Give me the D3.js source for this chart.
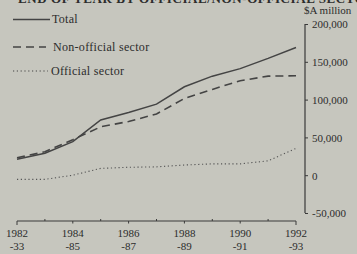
<!DOCTYPE html>
<html><head><meta charset="utf-8">
<script src="https://cdn.jsdelivr.net/npm/d3@7"></script>
<style>
html,body{margin:0;padding:0;background:#c6c6be;}
svg{display:block;}
text{font-family:"Liberation Serif",serif;fill:#2c2c2c;}
</style></head><body>
<svg id="c" width="357" height="254"></svg>
<script>
const years = [1982,1983,1984,1985,1986,1987,1988,1989,1990,1991,1992];
const yearLabels = [["1982","-33"],["1984","-85"],["1986","-87"],["1988","-89"],["1990","-91"],["1992","-93"]];
const total       = [21000,29000,44300,73000,83000,94000,117000,131000,141000,154500,169000];
const nonOfficial = [23000,31000,47000,64000,71000,81000,101500,113500,125000,131000,131500];
const official    = [-5500,-5500,0,9000,10500,11000,13500,15000,15000,19000,35500];
const yTicks = [200000,150000,100000,50000,0,-50000];
const seriesNames = ["Total","Non-official sector","Official sector"];
const titleText = "END OF YEAR BY OFFICIAL/NON-OFFICIAL SECTOR";

const svg = d3.select("#c");
const x = d3.scaleLinear().domain([1982,1992]).range([17,296]);
const y = d3.scaleLinear().domain([-50000,200000]).range([213,24]);
const ink = "#3a3a3a";

// title, mostly cut off at the top edge as in the reference
svg.append("text").attr("x",18).attr("y",2.5).attr("font-size",13).attr("font-weight","bold")
  .attr("letter-spacing",0.6).text(titleText);

// right axis
const yAxis = d3.axisRight(y).tickValues(yTicks).tickSize(3).tickPadding(4)
  .tickFormat(d=>d3.format(",")(d).replace("−","-"));
const gy = svg.append("g").attr("transform","translate(305,0)").call(yAxis)
  .attr("font-family","Liberation Serif, serif").attr("font-size",11);
gy.select(".domain").attr("stroke",ink).attr("stroke-width",1.2).attr("d","M0,"+y(200000)+"V"+y(-50000));
gy.selectAll(".tick line").attr("stroke",ink);
gy.selectAll(".tick text").attr("fill","#2c2c2c").attr("dy","0.35em");
svg.append("text").attr("x",304).attr("y",14).attr("font-size",11).text("$A million");

// bottom axis
const xAxisY = 221;
const gx = svg.append("g").attr("transform","translate(0,"+xAxisY+")");
gx.append("line").attr("x1",x(1982)).attr("x2",x(1992)).attr("stroke",ink).attr("stroke-width",1.2);
gx.selectAll(".mj").data(years.filter(d=>d%2===0)).join("line")
  .attr("x1",d=>x(d)).attr("x2",d=>x(d)).attr("y1",0).attr("y2",d=>(d===1982||d===1992)?4:2.5)
  .attr("stroke",ink);
gx.selectAll(".mn").data(years.filter(d=>d%2===1)).join("line")
  .attr("x1",d=>x(d)).attr("x2",d=>x(d)).attr("y1",0).attr("y2",-2)
  .attr("stroke",ink);
const lab = gx.selectAll(".lb").data(yearLabels).join("text")
  .attr("text-anchor","middle").attr("font-size",11);
lab.append("tspan").attr("x",d=>x(+d[0])).attr("y",16).text(d=>d[0]);
lab.append("tspan").attr("x",d=>x(+d[0])).attr("y",29).text(d=>d[1]);

// lines
const line = d3.line().x((d,i)=>x(years[i])).y(d=>y(d));
svg.append("path").datum(total).attr("d",line).attr("fill","none").attr("stroke","#444").attr("stroke-width",1.5);
svg.append("path").datum(nonOfficial).attr("d",line).attr("fill","none").attr("stroke","#444").attr("stroke-width",1.6).attr("stroke-dasharray","8,5");
svg.append("path").datum(official).attr("d",line).attr("fill","none").attr("stroke","#555").attr("stroke-width",1.1).attr("stroke-dasharray","1.2,2.6");

// legend
const leg = [
  {name:seriesNames[0], y:19.5, dash:null, w:1.5, x2:50, tx:52},
  {name:seriesNames[1], y:47, dash:"8,5", w:1.6, x2:46, tx:53},
  {name:seriesNames[2], y:71, dash:"1.2,2.6", w:1.1, x2:48, tx:51}
];
leg.forEach(l=>{
  svg.append("line").attr("x1",13).attr("x2",l.x2).attr("y1",l.y).attr("y2",l.y)
    .attr("stroke","#444").attr("stroke-width",l.w).attr("stroke-dasharray",l.dash);
  svg.append("text").attr("x",l.tx).attr("y",l.y+3.5).attr("font-size",12)
    .attr("letter-spacing",0.3).text(l.name);
});
</script>
</body></html>
